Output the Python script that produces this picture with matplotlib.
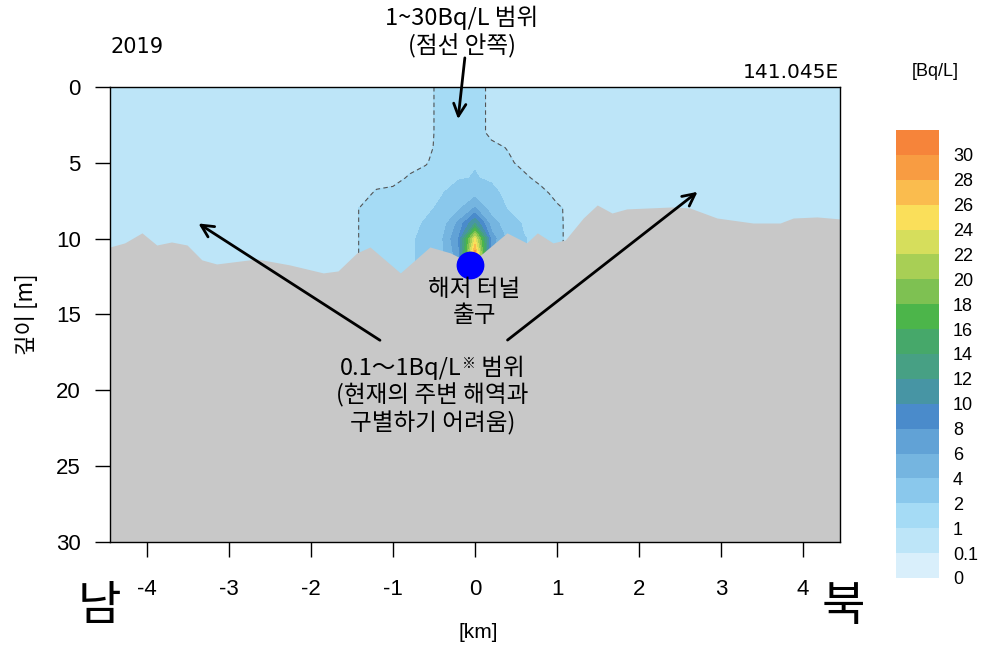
import numpy as np
import matplotlib
matplotlib.use("Agg")
import matplotlib.pyplot as plt
from matplotlib.colors import ListedColormap, BoundaryNorm
from matplotlib.offsetbox import TextArea, HPacker, VPacker, AnnotationBbox

plt.rcParams['font.family'] = ['Liberation Sans', 'Noto Sans CJK KR', 'DejaVu Sans']
plt.rcParams['axes.unicode_minus'] = False
KR = ['Noto Sans CJK KR', 'DejaVu Sans']

# grid of the section (km along track, depth in m)
grid_x = [-4.45, -1.6, -1.4, -1.2, -1.0, -0.8, -0.6, -0.4, -0.2, 0.0,
          0.2, 0.4, 0.6, 0.8, 1.0, 1.2, 4.45]
grid_depth = [0, 1, 2, 3, 4, 5, 6, 7, 8, 9, 10, 11, 12, 13]

# concentration [Bq/L], one row per depth
conc = [
    [0.5, 0.5, 0.5, 0.5, 0.5, 0.5, 0.5, 1.5, 1.8, 1.9, 0.5, 0.5, 0.5, 0.5, 0.5, 0.5, 0.5],
    [0.5, 0.5, 0.5, 0.5, 0.5, 0.5, 0.5, 1.5, 1.8, 1.9, 0.5, 0.5, 0.5, 0.5, 0.5, 0.5, 0.5],
    [0.5, 0.5, 0.5, 0.5, 0.5, 0.5, 0.5, 1.5, 1.8, 1.9, 0.5, 0.5, 0.5, 0.5, 0.5, 0.5, 0.5],
    [0.5, 0.5, 0.5, 0.5, 0.5, 0.5, 0.5, 1.5, 1.8, 1.9, 0.5, 0.5, 0.5, 0.5, 0.5, 0.5, 0.5],
    [0.5, 0.5, 0.5, 0.5, 0.5, 0.5, 0.6, 1.5, 1.8, 1.9, 1.5, 0.9, 0.5, 0.5, 0.5, 0.5, 0.5],
    [0.5, 0.5, 0.5, 0.5, 0.5, 0.5, 0.9, 1.6, 1.8, 1.95, 1.6, 1.33, 0.5, 0.5, 0.5, 0.5, 0.5],
    [0.5, 0.5, 0.5, 0.5, 0.5, 1.17, 1.5, 1.7, 1.9, 2.05, 1.85, 1.6, 1.33, 0.5, 0.5, 0.5, 0.5],
    [0.5, 0.5, 0.5, 1.17, 1.4, 1.6, 1.8, 1.95, 2.6, 3.2, 2.3, 1.7, 1.6, 1.5, 0.5, 0.5, 0.5],
    [0.5, 0.5, 1.05, 1.3, 1.5, 1.6, 1.8, 2.2, 3.6, 6.2, 3.0, 1.9, 1.7, 1.5, 1.26, 0.5, 0.5],
    [0.5, 0.5, 1.05, 1.3, 1.5, 1.7, 2.1, 3.0, 6.5, 12.0, 5.0, 2.8, 1.8, 1.6, 1.3, 0.5, 0.5],
    [0.5, 0.5, 1.05, 1.3, 1.5, 1.8, 2.3, 3.8, 8.0, 24.0, 7.0, 3.5, 2.05, 1.7, 1.3, 0.5, 0.5],
    [0.5, 0.5, 1.05, 1.3, 1.5, 1.8, 2.3, 3.8, 7.0, 29.0, 6.0, 3.0, 2.05, 1.7, 1.3, 0.5, 0.5],
    [0.5, 0.5, 1.05, 1.3, 1.5, 1.8, 2.3, 3.8, 7.0, 29.0, 6.0, 3.0, 2.05, 1.7, 1.3, 0.5, 0.5],
    [0.5, 0.5, 1.05, 1.3, 1.5, 1.8, 2.3, 3.8, 7.0, 29.0, 6.0, 3.0, 2.05, 1.7, 1.3, 0.5, 0.5],
]

# sea floor profile
bed_x = [-4.45, -4.27, -4.06, -3.88, -3.70, -3.51, -3.33, -3.15, -2.66, -2.26,
         -1.85, -1.67, -1.44, -1.28, -0.91, -0.55, -0.30, -0.06, 0.10, 0.39,
         0.63, 0.76, 0.95, 1.10, 1.32, 1.49, 1.67, 1.85, 2.41, 2.62,
         2.95, 3.39, 3.72, 3.88, 4.17, 4.45]
bed_depth = [10.55, 10.28, 9.62, 10.42, 10.22, 10.42, 11.40, 11.67, 11.34, 11.73,
             12.26, 12.13, 10.94, 10.55, 12.26, 10.55, 10.94, 11.6, 10.94, 9.62,
             10.28, 9.62, 10.28, 10.09, 8.64, 7.78, 8.31, 8.04, 7.91, 7.98,
             8.64, 8.97, 8.97, 8.64, 8.57, 8.70]

# tunnel outlet
outlet_x, outlet_depth = -0.06, 11.75

levels = [0, 0.1, 1, 2, 4, 6, 8, 10, 12, 14, 16, 18, 20, 22, 24, 26, 28, 30]
level_colors = ['#d9effb', '#bde5f8', '#a5dbf5', '#8ac8ec', '#75b5e0', '#61a2d6',
                '#4a8bcb', '#4795a4', '#47a084', '#46a86a', '#4cb54a', '#7ec152',
                '#a8cf55', '#d6de5c', '#fadf5a', '#fabc4e', '#f89c42']
over_color = '#f6843a'

cmap = ListedColormap(level_colors)
cmap.set_over(over_color)
norm = BoundaryNorm(levels, ncolors=len(level_colors))

fig = plt.figure(figsize=(9.82, 6.48), dpi=100)
ax = fig.add_axes([0.112, 0.1636, 0.7434, 0.7022])

X, D = np.meshgrid(grid_x, grid_depth)
C = np.array(conc)
cf = ax.contourf(X, D, C, levels=levels, cmap=cmap, norm=norm, extend='max', zorder=1)
ax.contour(X, D, C, levels=[1], colors='#555555', linewidths=0.8,
           linestyles=[(0, (4, 3))], zorder=2)

ax.fill_between(bed_x, bed_depth, 30, color='#c8c8c8', lw=0, zorder=3)
ax.plot(outlet_x, outlet_depth, 'o', color='#0000ff', ms=19, zorder=5)

ax.set_xlim(-4.45, 4.45)
ax.set_ylim(30, 0)
ax.set_xticks(range(-4, 5))
ax.set_yticks(range(0, 31, 5))
ax.tick_params(axis='x', direction='out', length=11, width=1, pad=16, labelsize=16)
ax.tick_params(axis='y', direction='out', length=11, width=1, pad=10, labelsize=16)
for s in ax.spines.values():
    s.set_linewidth(1)
    s.set_zorder(6)

ax.set_ylabel('깊이 [m]', family=KR, fontsize=16)
ax.yaxis.set_label_coords(-0.099, 0.5)
fig.text(478 / 982, 1 - 632 / 648, '[km]', ha='center', va='center', fontsize=15)
fig.text(99 / 982, 1 - 607 / 648, '남', family=KR, ha='center', va='center', fontsize=34)
fig.text(843 / 982, 1 - 607 / 648, '북', family=KR, ha='center', va='center', fontsize=34)
fig.text(137 / 982, 1 - 47 / 648, '2019', family='DejaVu Sans', ha='center',
         va='center', fontsize=15)
fig.text(839 / 982, 1 - 72 / 648, '141.045E', family='DejaVu Sans', ha='right',
         va='center', fontsize=14.5)

# annotations
arrow = dict(arrowstyle='->', lw=2, color='black', mutation_scale=22)
fig.text(462 / 982, 1 - 32 / 648, '1~30Bq/L 범위\n(점선 안쪽)', family=KR,
         ha='center', va='center', fontsize=17, linespacing=1.2)
ax.annotate('', xy=(-0.21, 2.3), xytext=(-0.12, -2.1), arrowprops=arrow,
            annotation_clip=False, zorder=7)
ax.text(-0.01, 14.2, '해저 터널\n출구', family=KR, ha='center', va='center',
        fontsize=17, linespacing=1.18, zorder=7)

kr = dict(family=KR, fontsize=17)
line1 = HPacker(children=[TextArea('0.1～1Bq/L', textprops=kr),
                          TextArea('※', textprops=dict(family=KR, fontsize=10)),
                          TextArea(' 범위', textprops=kr)],
                align='top', pad=0, sep=0)
note = VPacker(children=[line1,
                         TextArea('(현재의 주변 해역과', textprops=kr),
                         TextArea('구별하기 어려움)', textprops=kr)],
               align='center', pad=0, sep=2.5)
ax.add_artist(AnnotationBbox(note, (-0.52, 20.4), frameon=False,
                             box_alignment=(0.5, 0.5), zorder=7))
ax.annotate('', xy=(-3.40, 8.9), xytext=(-1.13, 16.8), arrowprops=arrow, zorder=7)
ax.annotate('', xy=(2.74, 6.8), xytext=(0.37, 16.8), arrowprops=arrow, zorder=7)

# colour bar
cax = fig.add_axes([896 / 982, 1 - 578 / 648, 43 / 982, 448 / 648])
cb = fig.colorbar(cf, cax=cax, extend='max', extendrect=True, extendfrac='auto',
                  spacing='uniform', ticks=levels)
cb.outline.set_visible(False)
cb.ax.set_yticklabels(['0', '0.1'] + [str(v) for v in levels[2:]])
cb.ax.tick_params(length=0, pad=10, labelsize=13)
fig.text(935 / 982, 1 - 72 / 648, '[Bq/L]', ha='center', va='center', fontsize=13)

fig.savefig('out.png', dpi=100)
